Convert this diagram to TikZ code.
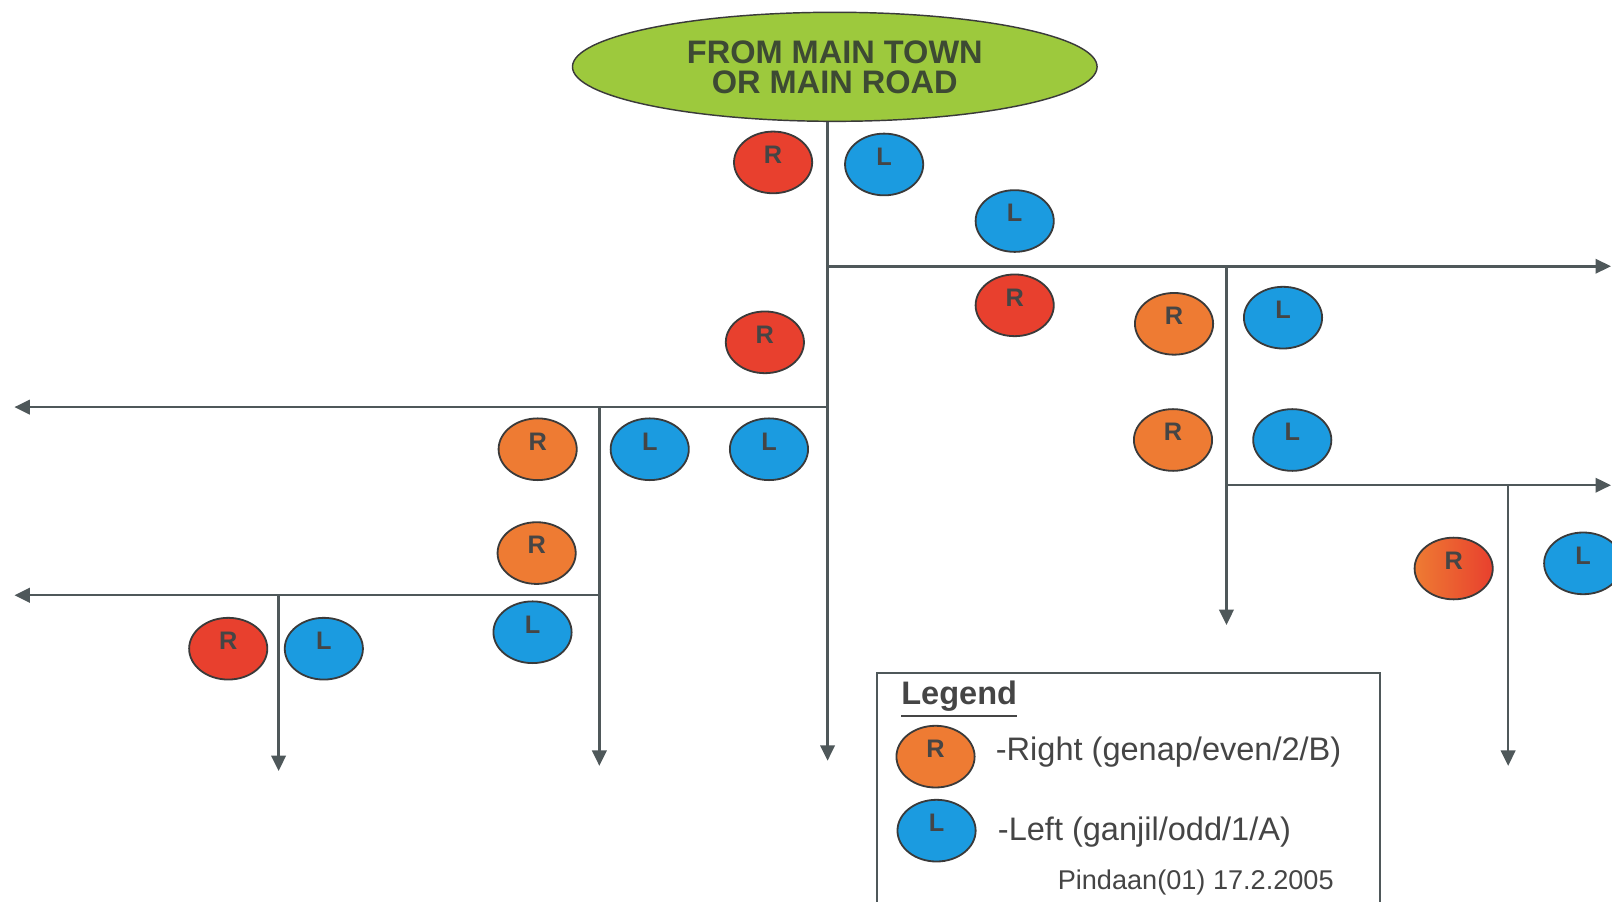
\documentclass[tikz,border=0pt]{standalone}
\usepackage{fontspec}
\setmainfont{Liberation Sans}
\usetikzlibrary{arrows.meta,shapes.geometric}
\definecolor{roadgray}{HTML}{4F585A}
\definecolor{rimgray}{HTML}{3A3A3A}
\definecolor{lettergray}{HTML}{454545}
\definecolor{housered}{HTML}{E8402E}
\definecolor{houseorange}{HTML}{EE7B33}
\definecolor{houseblue}{HTML}{1B9BE0}
\definecolor{towngreen}{HTML}{9DC93D}
\definecolor{towntext}{HTML}{3D4A33}
\begin{document}
\begin{tikzpicture}[x=0.01cm,y=-0.01cm,
  road/.style={draw=roadgray,line width=0.7pt,-{Triangle[length=1.5mm,width=1.4mm]}},
  house/.style={ellipse,draw=rimgray,line width=0.5pt,minimum width=7.6mm,
    minimum height=6mm,inner sep=0pt,text=lettergray,
    font=\fontsize{7}{7}\selectfont\bfseries,text height=1.8mm,text depth=1.65mm},
  keytext/.style={inner sep=0pt,text=lettergray}]
  \useasboundingbox (0,0) rectangle (1568,877);
  % the road everybody comes in by
  \node[ellipse,draw=rimgray,fill=towngreen,minimum width=5.1cm,minimum height=1.06cm,
    inner sep=0pt,align=center,text=towntext,font=\fontsize{9}{8.3}\selectfont\bfseries]
    (town) at (812,65) {FROM MAIN TOWN\\OR MAIN ROAD};
  % junctions
  \coordinate (ja) at (805,259); \coordinate (jb) at (805,396);
  \coordinate (jc) at (1193,259); \coordinate (jd) at (1193,472);
  \coordinate (je) at (1467,472); \coordinate (jf) at (583,396);
  \coordinate (jg) at (583,579); \coordinate (jh) at (271,579);
  % road ends
  \coordinate (emain) at (805,740); \coordinate (ea) at (1567,259);
  \coordinate (eb) at (14,396); \coordinate (ec) at (1193,608);
  \coordinate (ed) at (1567,472); \coordinate (ee) at (1467,745);
  \coordinate (ef) at (583,745); \coordinate (eg) at (14,579);
  \coordinate (eh) at (271,750);
  \draw[road] (town.south -| ja) -- (emain);
  \draw[road] (ja) -- (ea);
  \draw[road] (jb) -- (eb);
  \draw[road] (jc) -- (ec);
  \draw[road] (jd) -- (ed);
  \draw[road] (je) -- (ee);
  \draw[road] (jf) -- (ef);
  \draw[road] (jg) -- (eg);
  \draw[road] (jh) -- (eh);
  % houses on each side
  \foreach \n/\x/\y/\c/\t in {r1/752/158/housered/R, l1/860/160/houseblue/L,
      l2/987/215/houseblue/L, r2/987/297/housered/R, r3/744/333/housered/R,
      r4/523/437/houseorange/R, l3/632/437/houseblue/L, l4/748/437/houseblue/L,
      r5/522/538/houseorange/R, l5/518/615/houseblue/L, r6/222/631/housered/R,
      l6/315/631/houseblue/L, r7/1142/315/houseorange/R, l7/1248/309/houseblue/L,
      r8/1141/428/houseorange/R, l8/1257/428/houseblue/L, l9/1540/548/houseblue/L}
    \node[house,fill=\c] (\n) at (\x,\y) {\t};
  \node[house,left color=houseorange,right color=housered] (r9) at (1414,553) {R};
  % legend
  \draw[roadgray,line width=0.6pt] (853,655) rectangle (1342,900);
  \node[keytext,anchor=base west,font=\fontsize{9}{9}\selectfont\bfseries]
    (legend) at (876,685) {\underline{Legend}};
  \node[house,fill=houseorange] (keyr) at (910,736) {R};
  \node[house,fill=houseblue] (keyl) at (911,808) {L};
  \node[keytext,anchor=base west,font=\fontsize{9}{9}\selectfont]
    (keyrtext) at (968,740) {-Right (genap/even/2/B)};
  \node[keytext,anchor=base west,font=\fontsize{9}{9}\selectfont]
    (keyltext) at (970,818) {-Left (ganjil/odd/1/A)};
  \node[keytext,anchor=base east,font=\fontsize{7.5}{8}\selectfont]
    (amend) at (1298,865) {Pindaan(01) 17.2.2005};
\end{tikzpicture}
\end{document}
